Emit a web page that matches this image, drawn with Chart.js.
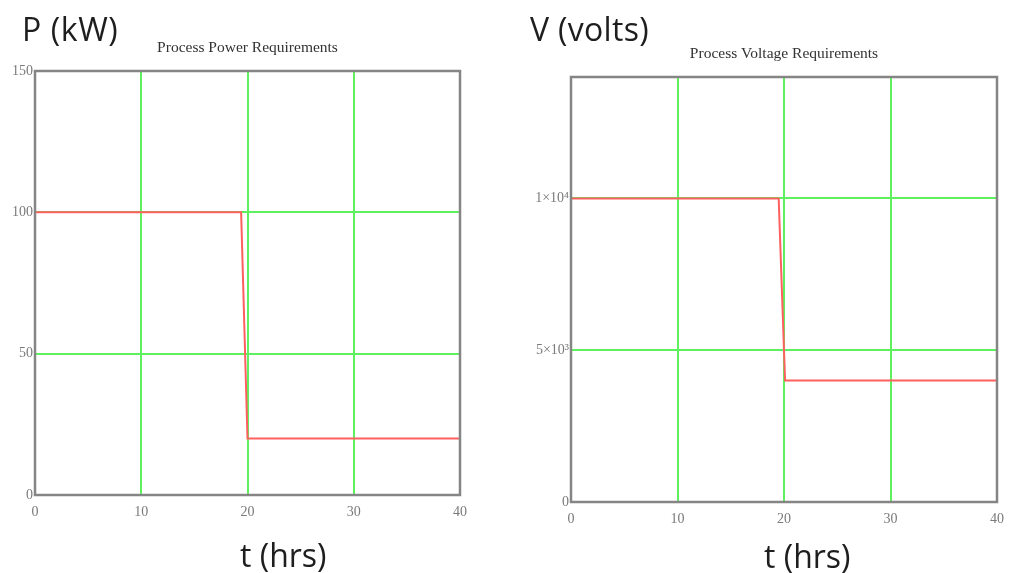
<!DOCTYPE html>
<html>
<head>
<meta charset="utf-8">
<script src="https://cdn.jsdelivr.net/npm/chart.js@4/dist/chart.umd.min.js"></script>
<style>
  html, body { margin: 0; padding: 0; background: #fff; }
  #wrap { position: relative; width: 1009px; height: 573px; overflow: hidden; }
  .pane { position: absolute; top: 0; height: 573px; }
  .big { position: absolute; font-family: "Open Sans", sans-serif; font-size: 32px; line-height: 32px;
         color: #1e1e1e; white-space: nowrap; }
</style>
</head>
<body>
<div id="wrap">
  <div class="pane" style="left:0;width:505px"><canvas id="power"></canvas></div>
  <div class="pane" style="left:505px;width:530px"><canvas id="voltage"></canvas></div>
  <div class="big" style="left:22px;top:13px;letter-spacing:0.6px">P (kW)</div>
  <div class="big" style="left:530px;top:13px;letter-spacing:0.3px">V (volts)</div>
  <div class="big" style="left:240px;top:539px">t (hrs)</div>
  <div class="big" style="left:764px;top:540px">t (hrs)</div>
</div>
<script>
// Process schedule: power and supply voltage against time (hours)
const powerHours   = [0, 19.4, 20, 40];
const powerKW      = [100, 100, 20, 20];
const voltageHours = [0, 19.5, 20.1, 40];
const voltageV     = [10000, 10000, 4000, 4000];

const timeTicks         = [0, 10, 20, 30, 40];
const powerTicks        = [0, 50, 100, 150];
const voltageTicks      = [0, 5000, 10000];
const voltageTickLabels = ['0', '5×10³', '1×10⁴'];

const GRID = 'rgb(95,240,95)';
const FRAME = '#858585';
const TRACE = 'rgb(255,95,95)';
const tickFont = { family: '"Liberation Serif", serif', size: 14 };

// Gray box round the plotting area, plus the small caption centred above it
const framePlugin = {
  id: 'frame',
  afterDatasetsDraw(chart, args, opts) {
    const a = chart.chartArea, c = chart.ctx;
    c.save();
    c.strokeStyle = FRAME;
    c.lineWidth = 2.5;
    c.strokeRect(a.left, a.top, a.right - a.left, a.bottom - a.top);
    c.fillStyle = '#333';
    c.font = '15.5px "Liberation Serif", serif';
    c.textAlign = 'center';
    c.textBaseline = 'middle';
    c.fillText(opts.caption, (a.left + a.right) / 2, a.top - 23);
    c.restore();
  }
};

function innerGrid(ctx) {
  const s = ctx.scale;
  if (!ctx.tick) return 'rgba(0,0,0,0)';
  const v = ctx.tick.value;
  return (v > s.min && v < s.max) ? GRID : 'rgba(0,0,0,0)';
}

function makeChart(id, cfg) {
  const pts = cfg.x.map((t, i) => ({ x: t, y: cfg.y[i] }));
  return new Chart(document.getElementById(id), {
    type: 'scatter',
    data: { datasets: [{ data: pts, showLine: true, borderColor: TRACE, borderWidth: 2,
                         pointRadius: 0, tension: 0, fill: false }] },
    options: {
      responsive: true, maintainAspectRatio: false, animation: false,
      layout: { padding: { left: 0, right: cfg.padRight, top: cfg.padTop, bottom: 0 } },
      plugins: {
        legend: { display: false }, tooltip: { enabled: false }, title: { display: false },
        frame: { caption: cfg.title }
      },
      scales: {
        x: {
          type: 'linear', min: 0, max: 40,
          afterBuildTicks: s => { s.ticks = timeTicks.map(v => ({ value: v })); },
          afterFit: s => { s.height = cfg.xHeight; },
          grid: { color: innerGrid, lineWidth: 2, drawTicks: false },
          border: { display: false },
          ticks: { color: '#7a7a7a', font: tickFont, padding: 9, maxRotation: 0 }
        },
        y: {
          type: 'linear', min: 0, max: cfg.yMax,
          afterBuildTicks: s => { s.ticks = cfg.yTicks.map(v => ({ value: v })); },
          afterFit: s => { s.width = cfg.yWidth; },
          grid: { color: innerGrid, lineWidth: 2, drawTicks: false },
          border: { display: false },
          ticks: { color: '#7a7a7a', font: tickFont, padding: 2,
                   callback: cfg.yLabel }
        }
      }
    },
    plugins: [framePlugin]
  });
}

makeChart('power', {
  x: powerHours, y: powerKW, title: 'Process Power Requirements',
  yMax: 150, yTicks: powerTicks, yLabel: v => String(v),
  yWidth: 35, padRight: 45, padTop: 71, xHeight: 78
});

makeChart('voltage', {
  x: voltageHours, y: voltageV, title: 'Process Voltage Requirements',
  yMax: 14000, yTicks: voltageTicks,
  yLabel: v => voltageTickLabels[voltageTicks.indexOf(v)],
  yWidth: 66, padRight: 38, padTop: 77, xHeight: 71
});
</script>
</body>
</html>
